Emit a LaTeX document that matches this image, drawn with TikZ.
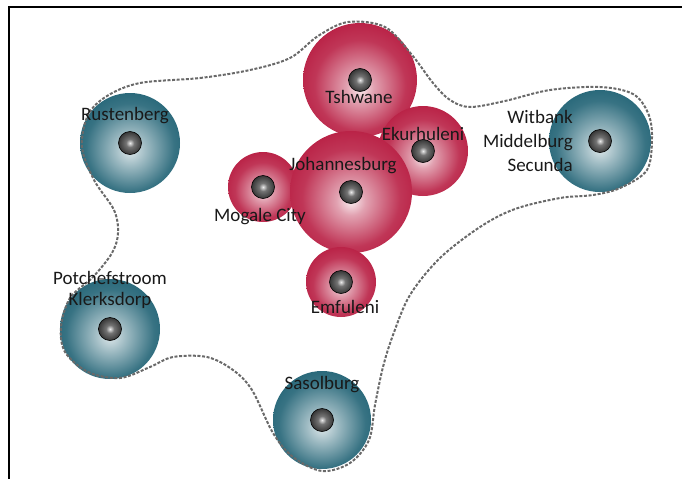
\documentclass[tikz,border=0pt]{standalone}
\usepackage{fontspec}
\setmainfont{Carlito}
\definecolor{cityred}{RGB}{178,10,50}
\definecolor{cityblue}{RGB}{12,84,104}
\definecolor{hullgray}{RGB}{105,105,105}
\pgfdeclareradialshading{redglow}{\pgfpoint{0bp}{-4bp}}{color(0bp)=(white!92!cityred); color(6bp)=(white!62!cityred); color(20bp)=(white!18!cityred); color(36bp)=(cityred); color(50bp)=(cityred!90!black)}
\pgfdeclareradialshading{blueglow}{\pgfpoint{0bp}{-4bp}}{color(0bp)=(white!85!cityblue); color(8bp)=(white!60!cityblue); color(22bp)=(white!18!cityblue); color(38bp)=(cityblue); color(50bp)=(cityblue!90!black)}
\pgfdeclareradialshading{dotglow}{\pgfpoint{0bp}{0bp}}{color(0bp)=(white!85!gray); color(9bp)=(gray!90!black); color(26bp)=(black!80); color(50bp)=(black)}
\begin{document}
\begin{tikzpicture}[x=1pt,y=-1pt,
	redcity/.style={circle,inner sep=0pt,shading=redglow},
	bluecity/.style={circle,inner sep=0pt,shading=blueglow},
	centerdot/.style={circle,inner sep=0pt,minimum size=23pt,shading=dotglow,draw=black,line width=0.6pt},
	citylabel/.style={font=\fontsize{19}{22}\selectfont,inner sep=0pt,align=center,text=black!90}]

	\useasboundingbox (0,0) rectangle (682,479);
	\draw[line width=2pt] (682,7) -- (9,7) -- (9,479); %枠

	% 赤い円
	\node[redcity,minimum size=114pt] (tshwane) at (360,80) {};
	\node[redcity,minimum size=90pt] (ekurhuleni) at (423,151) {};
	\node[redcity,minimum size=70pt] (mogale) at (263,187) {};
	\node[redcity,minimum size=122pt] (joburg) at (351,192) {};
	\node[redcity,minimum size=70pt] (emfuleni) at (341,282) {};

	% 青い円
	\node[bluecity,minimum size=100pt] (rustenberg) at (130,143) {};
	\node[bluecity,minimum size=100pt] (potch) at (110,329) {};
	\node[bluecity,minimum size=102pt] (witbank) at (600,141) {};
	\node[bluecity,minimum size=98pt] (sasolburg) at (322,420) {};

	% 点線の境界
	\draw[hullgray,line width=2pt,dash pattern=on 3pt off 1.6pt] plot[smooth cycle,tension=0.55] coordinates {
		(140,83) (200,78) (250,70) (290,58) (318,36) (348,22) (385,27) (412,55) (433,83) (450,100) (470,107)
		(505,101) (550,90) (600,87) (633,94) (648,113) (652,137) (647,170) (620,188) (593,195) (560,198)
		(515,209) (480,227) (440,258) (410,295) (393,335) (383,367) (375,405) (369,440) (350,463) (322,471)
		(293,457) (273,433) (252,390) (233,370) (207,357) (173,357) (150,367) (120,378) (88,372) (65,352)
		(61,327) (70,298) (93,277) (112,253) (118,233) (114,210) (94,180) (82,147) (88,115) (107,96)};

	% 中心の点
	\foreach \c in {tshwane,ekurhuleni,mogale,joburg,emfuleni,rustenberg,potch,witbank,sasolburg}
		\node[centerdot] (\c-dot) at (\c) {};

	% 地名
	\node[citylabel] (tshwane-label) at (359,97) {Tshwane};
	\node[citylabel] (ekurhuleni-label) at (423,134) {Ekurhuleni};
	\node[citylabel] (joburg-label) at (343,166) {Johannesburg};
	\node[citylabel] (mogale-label) at (260,217) {Mogale City};
	\node[citylabel] (emfuleni-label) at (345,307) {Emfuleni};
	\node[citylabel] (rustenberg-label) at (125,116) {Rustenberg};
	\node[citylabel,align=center,font=\fontsize{19}{21}\selectfont] (potch-label) at (110,290) {Potchefstroom\\Klerksdorp};
	\node[citylabel,align=right,anchor=east,font=\fontsize{19}{24}\selectfont] (witbank-label) at (573,141) {Witbank\\Middelburg\\Secunda};
	\node[citylabel] (sasolburg-label) at (322,385) {Sasolburg};
\end{tikzpicture}
\end{document}
